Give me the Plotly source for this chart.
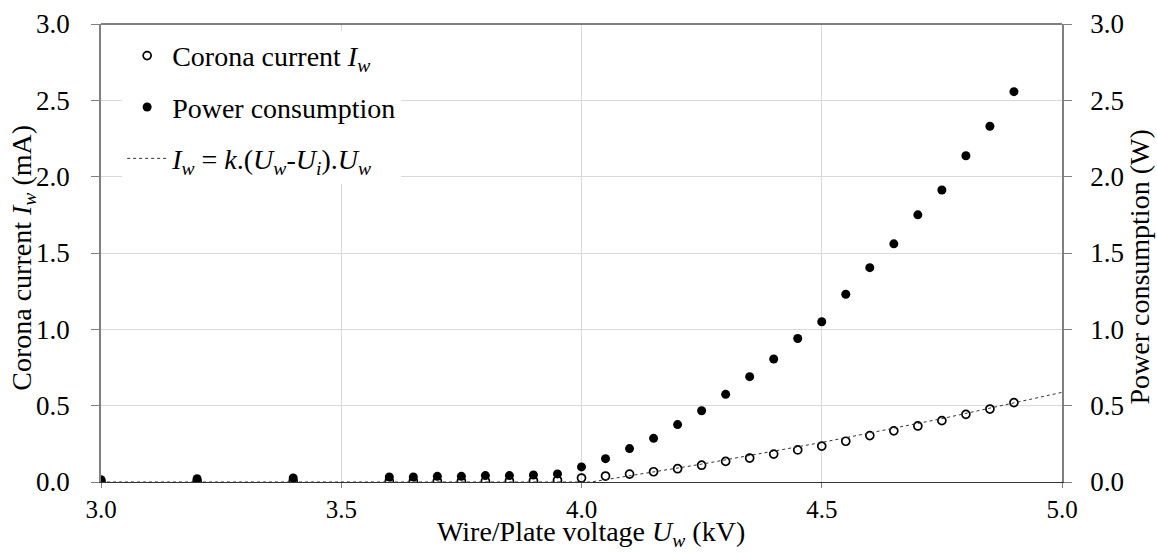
import plotly.graph_objects as go

voltage = [3.0, 3.2, 3.4, 3.6, 3.65, 3.7, 3.75, 3.8, 3.85, 3.9, 3.95, 4.0,
           4.05, 4.1, 4.15, 4.2, 4.25, 4.3, 4.35, 4.4, 4.45, 4.5, 4.55, 4.6,
           4.65, 4.7, 4.75, 4.8, 4.85, 4.9]
corona_current = [0.002, 0.003, 0.004, 0.005, 0.005, 0.006, 0.006, 0.006, 0.007, 0.008, 0.012, 0.026,
                  0.039, 0.052, 0.067, 0.087, 0.110, 0.135, 0.157, 0.183, 0.210, 0.235, 0.267, 0.304,
                  0.335, 0.367, 0.402, 0.443, 0.478, 0.520]
power = [0.015, 0.022, 0.026, 0.033, 0.033, 0.037, 0.037, 0.042, 0.042, 0.046, 0.053, 0.099,
         0.153, 0.219, 0.286, 0.376, 0.467, 0.574, 0.690, 0.806, 0.940, 1.050, 1.230, 1.404,
         1.560, 1.750, 1.913, 2.137, 2.330, 2.557]
fit_voltage = [3.0, 4.02, 4.25, 4.5, 4.75, 5.0]
fit_current = [0.0, 0.0, 0.117, 0.259, 0.415, 0.587]

x_title = "Wire/Plate voltage <i>U<sub>w</sub></i> (kV)"
y_title = "Corona current <i>I<sub>w</sub></i> (mA)"
y2_title = "Power consumption (W)"

FONT = "Liberation Serif, Times New Roman, Times, serif"
TICK = 27
TXT = 28

fig = go.Figure()
fig.add_trace(go.Scatter(
    x=voltage, y=corona_current, mode="markers", legendgroup="a",
    name="Corona current <i>I<sub>w</sub></i>",
    marker=dict(symbol="circle-open", size=8, color="black", line=dict(width=1.7, color="black")),
))
fig.add_trace(go.Scatter(
    x=voltage, y=power, mode="markers", yaxis="y2", legendgroup="b",
    name="Power consumption",
    marker=dict(symbol="circle", size=9, color="black"),
))
fig.add_trace(go.Scatter(
    x=fit_voltage, y=fit_current, mode="lines", legendgroup="c",
    name="<i>I<sub>w</sub></i> = <i>k</i>.(<i>U<sub>w</sub></i>-<i>U<sub>i</sub></i>).<i>U<sub>w</sub></i>",
    line=dict(color="#333333", width=1, dash="dot"),
))

fig.update_layout(
    width=1157, height=554,
    margin=dict(l=101, r=95, t=24, b=72, autoexpand=False),
    paper_bgcolor="white", plot_bgcolor="white",
    font=dict(family=FONT, size=TXT, color="black"),
    showlegend=True,
    legend=dict(x=0.022, y=0.985, xanchor="left", yanchor="top",
                bgcolor="white", borderwidth=0,
                font=dict(family=FONT, size=TXT, color="black"),
                itemsizing="trace", itemwidth=40, tracegroupgap=12),
    xaxis=dict(
        range=[3.0, 5.0], dtick=0.5, tickformat=".1f",
        tickfont=dict(family=FONT, size=25),
        showgrid=True, gridcolor="#d9d9d9", gridwidth=1,
        showline=True, linecolor="#333333", linewidth=1, mirror=False,
        ticks="outside", ticklen=5, tickcolor="#808080",
        ticklabelstandoff=0, automargin=False,
        zeroline=False,
    ),
    yaxis=dict(
        range=[0, 3.0], dtick=0.5, tickformat=".1f",
        tickfont=dict(family=FONT, size=TICK),
        showgrid=True, gridcolor="#d9d9d9", gridwidth=1,
        showline=True, linecolor="#808080", linewidth=1.5,
        ticks="outside", ticklen=8, tickcolor="#808080",
        ticklabelstandoff=16, automargin=False,
        zeroline=False,
    ),
    yaxis2=dict(
        range=[0, 3.0], dtick=0.5, tickformat=".1f",
        tickfont=dict(family=FONT, size=TICK),
        overlaying="y", side="right",
        showgrid=False,
        showline=True, linecolor="#808080", linewidth=1.5,
        ticks="outside", ticklen=8, tickcolor="#808080",
        ticklabelstandoff=13, automargin=False,
        zeroline=False,
    ),
    annotations=[
        dict(text=x_title, xref="paper", yref="paper", x=0.51, y=-0.112,
             xanchor="center", yanchor="middle", showarrow=False,
             font=dict(family=FONT, size=TXT)),
        dict(text=y_title, xref="paper", yref="paper", x=-0.081, y=0.49,
             xanchor="center", yanchor="middle", textangle=-90, showarrow=False,
             font=dict(family=FONT, size=TXT)),
        dict(text=y2_title, xref="paper", yref="paper", x=1.081, y=0.47,
             xanchor="center", yanchor="middle", textangle=-90, showarrow=False,
             font=dict(family=FONT, size=TXT)),
    ],
    shapes=[dict(type="line", xref="paper", yref="paper", x0=0, x1=1, y0=1, y1=1,
                 line=dict(color="#555555", width=1.5), layer="above")],
)

fig.write_html("out.html")
